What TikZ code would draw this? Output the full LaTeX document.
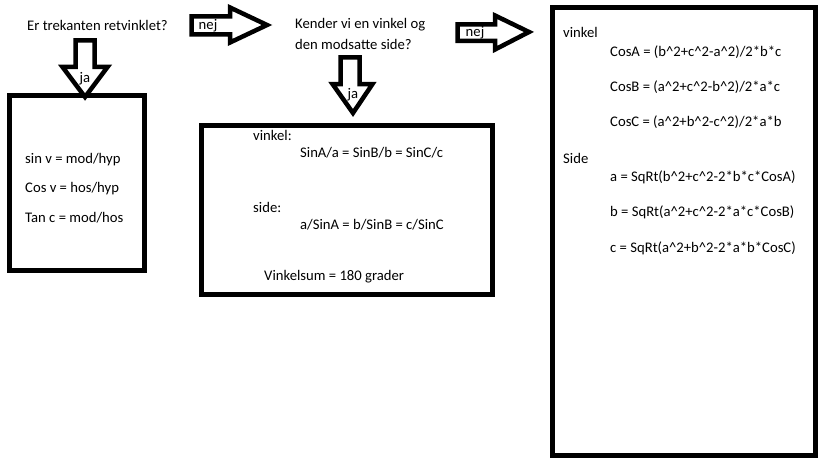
\documentclass[tikz,border=0pt]{standalone}
\usepackage{fontspec}
\setmainfont{Carlito}
\begin{document}
\begin{tikzpicture}[x=1pt,y=-1pt,
  txt/.style={anchor=west,inner sep=0pt,font=\fontsize{14.67}{17}\selectfont},
  lbl/.style={anchor=base,inner sep=0pt,font=\fontsize{14.67}{17}\selectfont},
  boxline/.style={draw=black,line width=5pt,fill=white},
  blockarrow/.style={draw=black,line width=4.5pt,fill=white,line join=miter}]
\useasboundingbox[fill=white] (0,0) rectangle (819,460);
% boxes
\draw[boxline] (9.5,95.5) rectangle (144.5,270.5);
\draw[boxline] (201.5,125) rectangle (492.5,294);
\draw[boxline] (552.5,7.5) rectangle (815.5,455.5);
% block arrows
\draw[blockarrow] (191.5,16.5) -- (230,16.5) -- (230,7.5) -- (267,25) -- (230,42.5) -- (230,34.5) -- (191.5,34.5) -- cycle;
\draw[blockarrow] (457.5,24.5) -- (495,24.5) -- (495,15.5) -- (529,32) -- (495,49.5) -- (495,41) -- (457.5,41) -- cycle;
\draw[blockarrow] (75.5,40.5) -- (94.5,40.5) -- (94.5,67) -- (107.5,67) -- (85,97) -- (62.5,67) -- (75.5,67) -- cycle;
\draw[blockarrow] (340.5,57.5) -- (359.5,57.5) -- (359.5,84) -- (372.5,84) -- (353,113) -- (332.5,84) -- (340.5,84) -- cycle;
% arrow labels
\node[lbl] (nej1) at (208,29.5) {nej};
\node[lbl] (nej2) at (475,37) {nej};
\node[lbl] (ja1) at (85,82) {ja};
\node[lbl] (ja2) at (353,98) {ja};
% questions
\node[txt] (q1) at (27,25) {Er trekanten retvinklet?};
\node[txt] (q2a) at (295,25) {Kender vi en vinkel og};
\node[txt] (q2b) at (295,44) {den modsatte side?};
% box 1
\node[txt] (t11) at (25,160) {sin v = mod/hyp};
\node[txt] (t12) at (25,189) {Cos v = hos/hyp};
\node[txt] (t13) at (25,218) {Tan c = mod/hos};
% box 2
\node[txt] (t21) at (253,135) {vinkel:};
\node[txt] (t22) at (300,153) {SinA/a = SinB/b = SinC/c};
\node[txt] (t23) at (253,207) {side:};
\node[txt] (t24) at (300,225) {a/SinA = b/SinB = c/SinC};
\node[txt] (t25) at (264,277) {Vinkelsum = 180 grader};
% box 3
\node[txt] (t31) at (563,32) {vinkel};
\node[txt] (t32) at (610,52) {CosA = (b\^{}2+c\^{}2-a\^{}2)/2*b*c};
\node[txt] (t33) at (610,87) {CosB = (a\^{}2+c\^{}2-b\^{}2)/2*a*c};
\node[txt] (t34) at (610,122) {CosC = (a\^{}2+b\^{}2-c\^{}2)/2*a*b};
\node[txt] (t35) at (563,158) {Side};
\node[txt] (t36) at (610,177) {a = SqRt(b\^{}2+c\^{}2-2*b*c*CosA)};
\node[txt] (t37) at (610,212) {b = SqRt(a\^{}2+c\^{}2-2*a*c*CosB)};
\node[txt] (t38) at (610,248) {c = SqRt(a\^{}2+b\^{}2-2*a*b*CosC)};
\end{tikzpicture}
\end{document}
